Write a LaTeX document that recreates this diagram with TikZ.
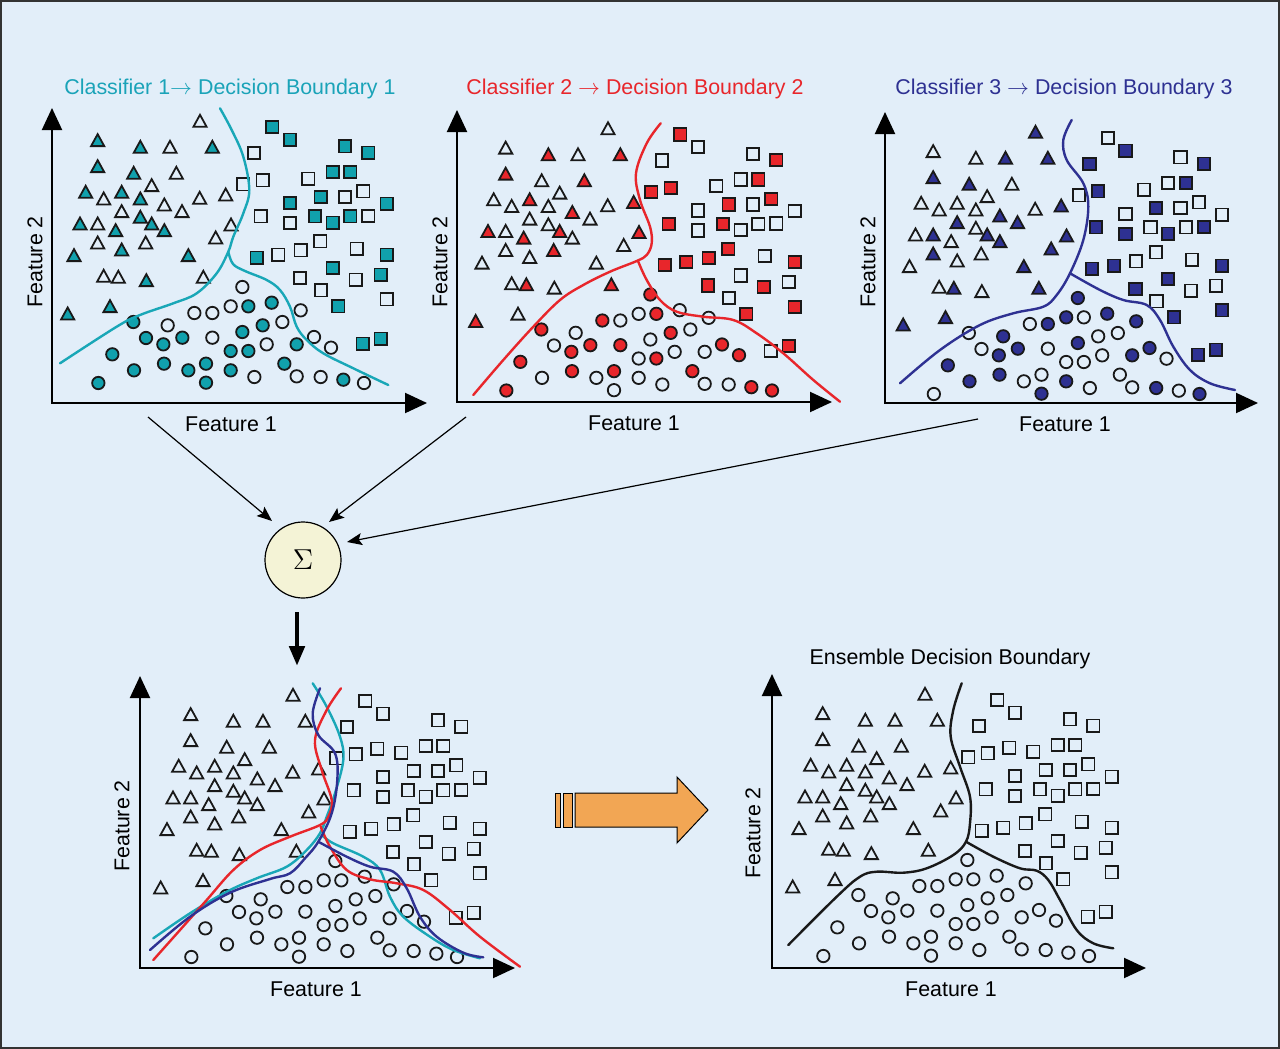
\documentclass[tikz,border=0pt]{standalone}
\usepackage[no-math]{fontspec}
\setmainfont{Liberation Sans}
\usetikzlibrary{arrows.meta}
\definecolor{bgc}{HTML}{E2EEF9}
\definecolor{cyanc}{HTML}{11A1AD}
\definecolor{cyanl}{HTML}{19A7B7}
\definecolor{cyant}{HTML}{1AA3B8}
\definecolor{redc}{HTML}{E8262B}
\definecolor{bluec}{HTML}{2E3192}
\definecolor{orangec}{HTML}{F2A654}
\definecolor{creamc}{HTML}{F4F3D6}
\newcommand{\ft}{\fontsize{10.7}{12}\selectfont}
% data in panel-5 zoom pixels: x/y/fill1/fill2/fill3 (2 = absent)
\def\trilist{495/72/0/0/1,188/130/1/0/0,316/150/1/1/0,405/150/0/0/1,532/150/1/1/1,188/208/1/1/1,296/228/1/0/1,424/228/0/1/0,350/265/0/0/0,152/285/1/0/0,206/305/0/0/0,260/285/1/1/0,316/305/1/0/0,494/303/0/0/0,572/293/0/1/1,388/323/0/1/1,260/343/0/0/1,441/343/0/0/1,316/360/1/0/0,135/380/1/1/0,188/380/0/0/1,350/380/1/1/1,242/400/1/1/0,388/400/1/0/1,588/383/0/1/1,188/437/0/0/1,332/437/0/1/0,542/422/0/0/1,260/458/1/0/0,117/475/1/0/0,460/475/1/0/1,206/537/0/0/0,250/540/0/1/1,334/550/1/0/0,505/540/0/1/1,225/628/1/0/1,98/650/1/1/1}
\def\sqlist{712/90/1/1/0,765/128/1/0/1,930/148/1/0/0,1000/167/1/1/1,657/168/0/0/1,625/262/0/1/0,683/250/0/1/1,748/233/2/2/2,820/245/0/0/0,893/225/1/0/0,946/225/1/1/1,985/283/0/1/0,857/300/1/1/1,930/300/0/0/0,1055/320/1/0/0,765/318/1/0/0,677/358/0/1/1,765/378/0/0/1,840/358/1/1/0,893/377/1/0/1,946/358/1/0/0,1000/357/0/0/1,856/433/0/1/0,965/455/0/0/0,665/482/1/1/1,730/473/0/1/1,797/460/0/1/0,1055/473/1/1/1,893/513/1/0/1,1037/533/1/0/0,795/543/0/1/1,962/548/0/1/0,858/580/0/0/0,910/628/1/1/1,1055/607/0/1/1,983/740/1/0/1,1037/725/1/1/1}
\def\cilist{622/570/0/1/1,478/648/0/1/0,532/648/0/0/1,587/628/0/0/1,640/628/1/1/0,710/617/1/0/1,797/640/0/0/1,295/675/1/1/0,398/685/0/0/1,683/685/1/1/0,742/675/0/0/0,333/723/1/0/0,442/722/1/1/1,532/722/0/1/0,622/705/1/0/1,385/742/1/1/1,695/742/0/0/0,785/742/1/0/1,837/720/0/1/1,888/752/0/1/0,587/762/1/0/0,640/762/1/1/0,232/772/1/1/1,387/800/1/1/1,513/800/1/1/0,748/800/1/1/0,297/820/1/0/1,460/820/1/0/0,587/820/1/0/1,190/858/1/1/0,513/857/1/0/1,658/840/0/0/0,785/838/0/0/0,857/840/0/0/1,925/848/1/1/0,987/858/0/1/1}
\newcommand{\drawpts}[3]{%
\begin{scope}[shift={#3}, x=0.166667pt, y=-0.166667pt]
\foreach \px/\py/\fa/\fb/\fc in \trilist {%
  \ifcase#1 \def\ff{0}\or\let\ff\fa\or\let\ff\fb\or\let\ff\fc\fi
  \ifnum\ff=1 \def\fcol{#2}\else\def\fcol{none}\fi
  \ifnum\ff<2 \draw[mk,fill=\fcol] (\px,\py) +(0pt,3.1pt) -- +(-3.3pt,-2.9pt) -- +(3.3pt,-2.9pt) -- cycle;\fi
}
\foreach \px/\py/\fa/\fb/\fc in \sqlist {%
  \ifcase#1 \def\ff{0}\or\let\ff\fa\or\let\ff\fb\or\let\ff\fc\fi
  \ifnum\ff=1 \def\fcol{#2}\else\def\fcol{none}\fi
  \ifnum\ff<2 \draw[mk,fill=\fcol] (\px,\py) +(-3.1pt,-3.1pt) rectangle +(3.1pt,3.1pt);\fi
}
\foreach \px/\py/\fa/\fb/\fc in \cilist {%
  \ifcase#1 \def\ff{0}\or\let\ff\fa\or\let\ff\fb\or\let\ff\fc\fi
  \ifnum\ff=1 \def\fcol{#2}\else\def\fcol{none}\fi
  \ifnum\ff<2 \draw[mk,fill=\fcol] (\px,\py) circle[radius=3.1pt];\fi
}
\end{scope}}
\begin{document}
\begin{tikzpicture}[x=0.5pt,y=-0.5pt,
  mk/.style={draw=black!90, line width=0.9pt},
  axis/.style={line width=1pt, {Triangle[length=11pt,width=10pt]}-{Triangle[length=11pt,width=10pt]}},
  bcurve/.style={line width=1.2pt, line cap=round, line join=round},
  lbl/.style={font=\ft, inner sep=0pt},
  thinarrow/.style={line width=0.6pt, -{Stealth[length=7.5pt,width=6pt,inset=1.5pt]}}]
\fill[bgc] (0,0) rectangle (1280,1049);
\draw[line width=0.6pt, draw=black!80] (1,1) rectangle (1279,1048);
\useasboundingbox (0,0) rectangle (1280,1049);

% titles
\node[lbl, anchor=base west, text=cyant] (t1) at (64,94) {Classifier 1\ensuremath{\rightarrow} Decision Boundary 1};
\node[lbl, anchor=base west, text=redc] (t2) at (466,94) {Classifier 2 \ensuremath{\rightarrow} Decision Boundary 2};
\node[lbl, anchor=base west, text=bluec] (t3) at (895,94) {Classifier 3 \ensuremath{\rightarrow} Decision Boundary 3};
\node[lbl, anchor=base] (t5) at (950,664) {Ensemble Decision Boundary};

% axes
\coordinate (y1) at (52,108); \coordinate (o1) at (52,403); \coordinate (x1) at (427,403);
\coordinate (y2) at (457,110); \coordinate (o2) at (457,402); \coordinate (x2) at (832,402);
\coordinate (y3) at (885,112); \coordinate (o3) at (885,403); \coordinate (x3) at (1258,403);
\coordinate (y4) at (140,676); \coordinate (o4) at (140,968); \coordinate (x4) at (515,968);
\coordinate (y5) at (772,674); \coordinate (o5) at (772,968); \coordinate (x5) at (1146,968);
\foreach \i in {1,...,5} {\draw[axis] (y\i) -- (o\i) -- (x\i);}

% axis labels
\node[lbl, anchor=base] (fx1) at (231,431) {Feature 1};
\node[lbl, anchor=base] (fx2) at (634,430) {Feature 1};
\node[lbl, anchor=base] (fx3) at (1065,431) {Feature 1};
\node[lbl, anchor=base] (fx4) at (316,996) {Feature 1};
\node[lbl, anchor=base] (fx5) at (951,996) {Feature 1};
\node[lbl, rotate=90] (fy1) at (35,262) {Feature 2};
\node[lbl, rotate=90] (fy2) at (440,262) {Feature 2};
\node[lbl, rotate=90] (fy3) at (868,262) {Feature 2};
\node[lbl, rotate=90] (fy4) at (122,826) {Feature 2};
\node[lbl, rotate=90] (fy5) at (753,833) {Feature 2};

% points
\drawpts{1}{cyanc}{(35,97)}
\drawpts{2}{redc}{(443,104.5)}
\drawpts{3}{bluec}{(870.5,108)}
\drawpts{0}{none}{(128,671)}
\drawpts{0}{none}{(760,670)}

% panel 1 curve
\draw[bcurve, cyanl] plot[smooth, tension=0.6] coordinates {(220,108.3) (231.7,130) (243.3,156.7) (249.3,190) (243.3,213.3) (233.3,236.7) (228.3,251.7) (216.7,273.3) (196.7,293.3) (173.3,303.3) (140,315) (116.7,326.7) (60,363.3)};
\draw[bcurve, cyanl] plot[smooth, tension=0.6] coordinates {(228.3,251.7) (233,264) (245,271) (266.7,280) (280,290) (290,306.7) (296.7,326.7) (306.7,340) (323.3,353.3) (353.3,368.3) (388.3,385)};
% panel 2 curve
\draw[bcurve, redc] plot[smooth, tension=0.6] coordinates {(660.7,123.3) (646.7,143.3) (636,173.3) (640,200) (650,226.7) (651.7,243.3) (646.7,255) (636.7,261) (610,271.7) (583.3,285) (560,300) (533.3,326.7) (503.3,360) (473.3,395)};
\draw[bcurve, redc] plot[smooth, tension=0.6] coordinates {(638.3,261.7) (646.7,280) (660,300) (676.7,311.7) (703.3,316.7) (733.3,320) (756.7,333.3) (783.3,353.3) (813.3,380) (840,401.7)};
% panel 3 curve
\draw[bcurve, bluec] plot[smooth, tension=0.6] coordinates {(1071.7,120) (1063.3,140) (1066.7,160) (1083.3,183.3) (1088.3,206.7) (1083.3,240) (1070,273.3) (1056.7,295) (1043.3,306.7) (1013.3,313.3) (980,325) (940,350) (900,383.3)};
\draw[bcurve, bluec] plot[smooth, tension=0.6] coordinates {(1070,273.3) (1100,290) (1123.3,300) (1146.7,305) (1160,320) (1173.3,346.7) (1190,370) (1210,383.3) (1235,390)};
% panel 4 curves
\draw[bcurve, cyanl] plot[smooth, tension=0.6] coordinates {(312.7,683.3) (326.7,706.7) (340,736.7) (343.3,760) (335,793.3) (326.7,816.7) (320,833.3) (306.7,850) (286.7,866.7) (256.7,878.3) (226.7,891.7) (190,913.3) (153.3,938.3)};
\draw[bcurve, cyanl] plot[smooth, tension=0.6] coordinates {(321.7,835) (333.3,843.3) (363.3,856.7) (380,870) (390,896.7) (403.3,916.7) (430,936.7) (453.3,950) (480,958.3)};
\draw[bcurve, redc] plot[smooth, tension=0.6] coordinates {(341,688.3) (326.7,710) (315,740) (321.7,770) (331.7,800) (328.3,816.7) (320,825) (290,836.7) (260,850) (233.3,870) (206.7,900) (180,930) (153.3,960)};
\draw[bcurve, redc] plot[smooth, tension=0.6] coordinates {(320.7,826.7) (330,846.7) (346.7,870) (370,879.3) (396.7,883.3) (423.3,890) (450,910) (480,936.7) (520,966.7)};
\draw[bcurve, bluec] plot[smooth, tension=0.6] coordinates {(320,688.3) (312.7,713.3) (318.3,735) (335,753.3) (337.3,780) (331.7,813.3) (318.3,841.7) (305,858.3) (290,873.3) (270,879) (230,892.7) (190,916.7) (150,950)};
\draw[bcurve, bluec] plot[smooth, tension=0.6] coordinates {(318.3,841.7) (346.7,856.7) (370,866.7) (393.3,871.7) (406.7,888.3) (420,916.7) (436.7,936.7) (463.3,952.7) (483.3,957.3)};
% panel 5 curve
\draw[bcurve, black!90] plot[smooth, tension=0.6] coordinates {(961.7,683.3) (953.3,710) (950.7,736.7) (960,766.7) (970,796.7) (970,823.3) (966,841.7) (953.3,855) (926.7,868.3) (903.3,872.7) (876.7,871.7) (860,876.7) (836.7,896.7) (788.3,945)};
\draw[bcurve, black!90] plot[smooth, tension=0.6] coordinates {(966,841.7) (993.3,856.7) (1020,868.3) (1036.7,870.7) (1048.3,880) (1060,900) (1076.7,930) (1093.3,943.3) (1113.3,948.3)};

% sigma
\node[circle, draw=black, line width=0.6pt, fill=creamc, minimum size=38pt, inner sep=0pt] (sig) at (303,560) {\fontsize{15}{17}\selectfont$\Sigma$};
\coordinate (a1s) at (148,417); \coordinate (a1e) at (272,521);
\coordinate (a2s) at (466,417); \coordinate (a2e) at (329,522);
\coordinate (a3s) at (978,419); \coordinate (a3e) at (347,542);
\draw[thinarrow] (a1s) -- (a1e);
\draw[thinarrow] (a2s) -- (a2e);
\draw[thinarrow] (a3s) -- (a3e);
\coordinate (d1) at (297,612); \coordinate (d2) at (297,666);
\draw[line width=2.4pt, -{Triangle[length=10pt,width=7.5pt]}] (d1) -- (d2);

% orange arrow
\draw[fill=orangec, line width=0.5pt] (575,793) -- (677,793) -- (677,777) -- (708,810) -- (677,843) -- (677,827) -- (575,827) -- cycle;
\draw[fill=orangec, line width=0.5pt] (555,793) rectangle (560,827);
\draw[fill=orangec, line width=0.5pt] (563.5,793) rectangle (572,827);
\end{tikzpicture}
\end{document}
